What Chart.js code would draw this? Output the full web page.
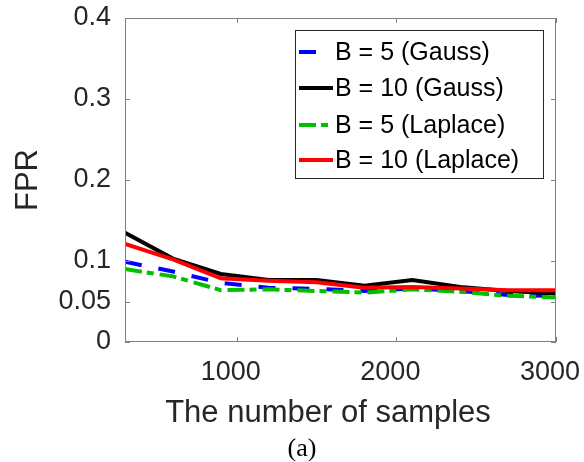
<!DOCTYPE html>
<html>
<head>
<meta charset="utf-8">
<script src="https://cdn.jsdelivr.net/npm/chart.js@4.4.0/dist/chart.umd.min.js"></script>
<style>
  html, body { margin: 0; padding: 0; background: #ffffff; }
  #wrap { width: 584px; height: 462px; position: relative; }
</style>
</head>
<body>
<div id="wrap"><canvas id="c" width="584" height="462"></canvas></div>
<script>
// ---- data ----
const samples = [300, 600, 900, 1200, 1500, 1800, 2100, 2400, 2700, 3000];
const gaussB5 = [0.099, 0.087, 0.073, 0.067, 0.0655, 0.063, 0.066, 0.063, 0.058, 0.057];
const gaussB10 = [0.135, 0.103, 0.084, 0.0765, 0.0765, 0.0695, 0.0765, 0.068, 0.063, 0.060];
const laplaceB5 = [0.090, 0.081, 0.064, 0.065, 0.063, 0.061, 0.065, 0.062, 0.057, 0.055];
const laplaceB10 = [0.121, 0.102, 0.0786, 0.0757, 0.0737, 0.067, 0.068, 0.066, 0.064, 0.064];
const seriesLabels = ['B = 5 (Gauss)', 'B = 10 (Gauss)', 'B = 5 (Laplace)', 'B = 10 (Laplace)'];
const xTicks = [1000, 2000, 3000];
const yTicks = [0, 0.05, 0.1, 0.2, 0.3, 0.4];
const xTitle = 'The number of samples';
const yTitle = 'FPR';
const caption = '(a)';

const TEXT = '#262626';
const AXIS = '#808080';
const SANS = '"Liberation Sans", Arial, Helvetica, sans-serif';

function pts(vals) { return samples.map((x, i) => ({ x: x, y: vals[i] })); }

const styles = [
  { color: '#0000ff', dash: [17, 17], order: 4 },
  { color: '#000000', dash: [], order: 3 },
  { color: '#00c000', dash: [17, 5, 7, 6], order: 2 },
  { color: '#ff0000', dash: [], order: 1 }
];
const seriesVals = [gaussB5, gaussB10, laplaceB5, laplaceB10];

const datasets = seriesVals.map((v, i) => ({
  label: seriesLabels[i],
  data: pts(v),
  borderColor: styles[i].color,
  backgroundColor: styles[i].color,
  borderDash: styles[i].dash,
  borderWidth: 4,
  borderCapStyle: 'butt',
  pointRadius: 0,
  tension: 0,
  fill: false,
  order: styles[i].order
}));

const framePlugin = {
  id: 'frame',
  afterDatasetsDraw(chart) {
    const { ctx, chartArea: a, scales } = chart;
    ctx.save();
    ctx.strokeStyle = AXIS;
    ctx.lineWidth = 1;
    ctx.setLineDash([]);
    ctx.strokeRect(a.left + 0.5, a.top + 0.5, a.right - a.left - 1, a.bottom - a.top - 1);
    const tl = 5;
    ctx.beginPath();
    xTicks.forEach(v => {
      const x = Math.round(scales.x.getPixelForValue(v)) + 0.5;
      ctx.moveTo(x, a.bottom); ctx.lineTo(x, a.bottom - tl);
      ctx.moveTo(x, a.top); ctx.lineTo(x, a.top + tl);
    });
    yTicks.forEach(v => {
      const y = Math.round(scales.y.getPixelForValue(v)) + 0.5;
      ctx.moveTo(a.left, y); ctx.lineTo(a.left + tl, y);
      ctx.moveTo(a.right, y); ctx.lineTo(a.right - tl, y);
    });
    ctx.stroke();
    ctx.restore();
  },
  afterDraw(chart) {
    const { ctx, chartArea: a } = chart;
    ctx.save();
    // Legend
    const lx = 295, ly = 30, lw = 248, lh = 148;
    ctx.fillStyle = '#ffffff';
    ctx.fillRect(lx, ly, lw, lh);
    ctx.strokeStyle = TEXT;
    ctx.lineWidth = 1;
    ctx.strokeRect(lx + 0.5, ly + 0.5, lw, lh);
    const rowY = [52, 88, 125, 160];
    ctx.font = '25px ' + SANS;
    ctx.textBaseline = 'middle';
    ctx.textAlign = 'left';
    chart.data.datasets.forEach((ds, i) => {
      const y = rowY[i];
      ctx.strokeStyle = ds.borderColor;
      ctx.lineWidth = 4;
      ctx.lineCap = 'butt';
      ctx.setLineDash(ds.borderDash || []);
      ctx.beginPath();
      ctx.moveTo(299, y); ctx.lineTo(333, y);
      ctx.stroke();
      ctx.setLineDash([]);
      ctx.fillStyle = '#000000';
      ctx.fillText(ds.label, 335, y + 1);
    });
    // Axis titles
    ctx.fillStyle = TEXT;
    ctx.font = '31px ' + SANS;
    ctx.textAlign = 'center';
    ctx.textBaseline = 'middle';
    ctx.fillText(xTitle, 328, 413);
    ctx.save();
    ctx.translate(28, (a.top + a.bottom) / 2);
    ctx.rotate(-Math.PI / 2);
    ctx.fillText(yTitle, 0, 0);
    ctx.restore();
    // Caption
    ctx.fillStyle = '#000000';
    ctx.font = '26px "Liberation Serif", "DejaVu Serif", serif';
    ctx.fillText(caption, 302, 449);
    ctx.restore();
  }
};

new Chart(document.getElementById('c'), {
  type: 'line',
  data: { datasets: datasets },
  options: {
    responsive: false,
    animation: false,
    devicePixelRatio: 1,
    layout: { padding: { left: 0, top: 18, right: 28, bottom: 0 } },
    plugins: { legend: { display: false }, tooltip: { enabled: false } },
    scales: {
      x: {
        type: 'linear',
        min: 300, max: 3000,
        afterBuildTicks: s => { s.ticks = xTicks.map(v => ({ value: v })); },
        afterFit: s => { s.height = 120; s.paddingLeft = 0; s.paddingRight = 0; s.paddingTop = 0; s.paddingBottom = 0; },
        grid: { display: false, drawTicks: false },
        border: { display: false },
        ticks: { color: TEXT, font: { family: SANS, size: 27 }, padding: 14, maxRotation: 0, autoSkip: false,
                 labelOffset: -6, callback: v => String(v) }
      },
      y: {
        type: 'linear',
        min: 0, max: 0.4,
        afterBuildTicks: s => { s.ticks = yTicks.map(v => ({ value: v })); },
        afterFit: s => { s.width = 125; s.paddingLeft = 0; s.paddingRight = 0; s.paddingTop = 0; s.paddingBottom = 0; },
        grid: { display: false, drawTicks: false },
        border: { display: false },
        ticks: { color: TEXT, font: { family: SANS, size: 27 }, padding: 14, autoSkip: false,
                 callback: v => String(v) }
      }
    }
  },
  plugins: [framePlugin]
});
</script>
</body>
</html>
